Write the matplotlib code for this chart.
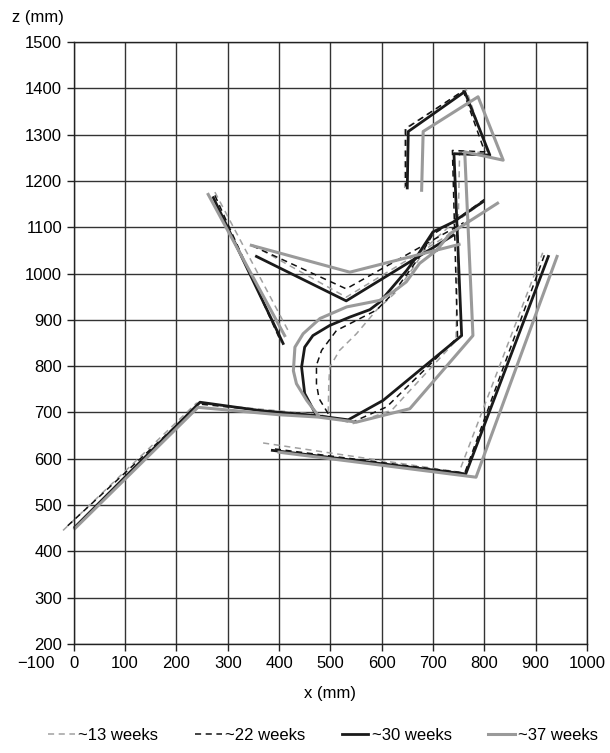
import numpy as np
import matplotlib
matplotlib.use("Agg")
import matplotlib.pyplot as plt

plt.rcParams['font.family'] = ['Liberation Sans', 'DejaVu Sans']
plt.rcParams['font.size'] = 12

nan = np.nan

# ~13 weeks (grey dashed): body/head, belly, arm, steering wheel, seat (nan = break)
x13 = [-21, 239, 480, 545, 620, 745, 752, 806, 765, 645, 645, nan,
       496, 497, 499, 518, 551, 590, 628, 660, 690, 730, 805, nan,
       348, 531, 752, nan,
       275, 421, nan,
       369, 751, 914]
y13 = [445, 720, 695, 676, 705, 855, 1262, 1262, 1398, 1313, 1185, nan,
       700, 762, 798, 834, 870, 921, 960, 1010, 1060, 1100, 1160, nan,
       1062, 949, 1098, nan,
       1176, 870, nan,
       634, 571, 1045]

# ~22 weeks (black dashed)
x22 = [-12, 245, 480, 545, 610, 748, 738, 801, 759, 647, 647, nan,
       496, 478, 473, 473, 483, 512, 551, 590, 622, 655, 676, 700, 740, 800, nan,
       348, 531, 760, nan,
       275, 404, nan,
       392, 762, 918]
y22 = [455, 718, 692, 680, 712, 862, 1266, 1263, 1395, 1313, 1188, nan,
       697, 730, 762, 802, 834, 877, 899, 921, 957, 1007, 1040, 1085, 1112, 1160, nan,
       1060, 967, 1110, nan,
       1169, 852, nan,
       621, 569, 1042]

# ~30 weeks (black solid)
x30 = [2, 246, 363, 473, 535, 603, 756, 741, 811, 762, 652, 650, nan,
       473, 450, 444, 450, 466, 499, 538, 577, 596, 616, 649, 668, 700, 739, 797, nan,
       356, 531, 740, nan,
       272, 408, nan,
       387, 764, 925]
y30 = [452, 722, 704, 693, 684, 726, 866, 1259, 1256, 1393, 1307, 1185, nan,
       693, 741, 798, 841, 866, 888, 906, 922, 938, 964, 1007, 1036, 1090, 1111, 1155, nan,
       1037, 941, 1083, nan,
       1164, 849, nan,
       618, 567, 1037]

# ~37 weeks (grey solid)
x37 = [2, 242, 400, 476, 551, 655, 778, 762, 837, 788, 681, 678, nan,
       476, 454, 434, 428, 431, 447, 480, 532, 596, 622, 648, 674, 707, 733, 826, nan,
       346, 538, 751, nan,
       262, 411, nan,
       400, 784, 942]
y37 = [449, 711, 695, 690, 679, 708, 866, 1263, 1245, 1382, 1307, 1180, nan,
       694, 726, 762, 790, 841, 870, 903, 928, 942, 960, 982, 1022, 1050, 1086, 1152, nan,
       1061, 1003, 1063, nan,
       1171, 866, nan,
       614, 560, 1037]

x_ticks = list(range(0, 1001, 100))
y_ticks = list(range(200, 1501, 100))

fig = plt.figure(figsize=(6.1, 7.53), dpi=100)
ax = fig.add_axes([0.121, 0.145, 0.841, 0.799])

ax.plot(x13, y13, color='#a0a0a0', lw=1.1, dashes=(4, 3), label='~13 weeks', clip_on=False)
ax.plot(x22, y22, color='#111111', lw=1.1, dashes=(4, 3), label='~22 weeks', clip_on=False)
ax.plot(x30, y30, color='#1a1a1a', lw=2.0, label='~30 weeks', clip_on=False)
ax.plot(x37, y37, color='#9a9a9a', lw=2.2, label='~37 weeks', clip_on=False)

ax.set_xlim(0, 1000)
ax.set_ylim(200, 1500)
ax.set_xticks(x_ticks)
ax.set_yticks(y_ticks)
ax.grid(True, color='#333333', lw=1.0)
ax.set_axisbelow(True)
ax.tick_params(direction='out', length=5, width=1, colors='#222222', labelcolor='black')
for s in ax.spines.values():
    s.set_color('#222222')
    s.set_linewidth(1.0)

# the extra label left of the axis, as in the original
ax.annotate('\u2212100', xy=(-74, 200), xycoords='data', xytext=(0, -8.5),
            textcoords='offset points', ha='center', va='top', annotation_clip=False)
ax.set_xticklabels([str(t) for t in x_ticks])

ax.set_xlabel('x (mm)', labelpad=11)
fig.text(0.062, 0.977, 'z (mm)', ha='center', va='center')

fig.legend(loc='lower center', bbox_to_anchor=(0.53, -0.006), ncol=4, frameon=False,
           handlelength=1.6, handletextpad=0.2, columnspacing=2.2)

fig.savefig('out.png', dpi=100)
